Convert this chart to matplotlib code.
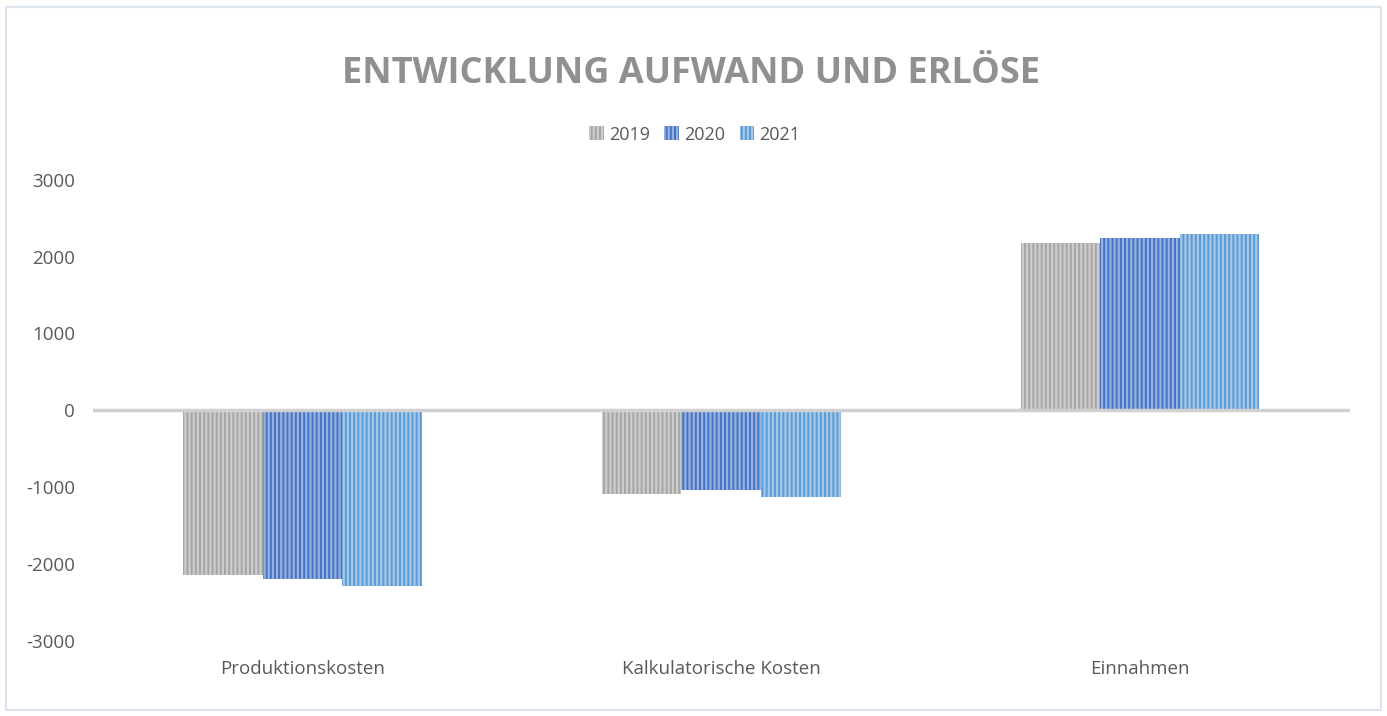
import matplotlib.pyplot as plt
from matplotlib.patches import Rectangle
import numpy as np

categories = ["Produktionskosten", "Kalkulatorische Kosten", "Einnahmen"]
years = ["2019", "2020", "2021"]
values_2019 = [-2150, -1090, 2180]
values_2020 = [-2200, -1040, 2240]
values_2021 = [-2290, -1130, 2290]

colors = ["#A5A5A5", "#4472C4", "#5B9BD5"]
text_gray = "#595959"

plt.rcParams["font.family"] = ["Open Sans", "DejaVu Sans"]
plt.rcParams["hatch.linewidth"] = 1.6
plt.rcParams["axes.unicode_minus"] = False

fig = plt.figure(figsize=(13.87, 7.16), dpi=100)
ax = fig.add_axes([0.067, 0.105, 0.906, 0.644])

# light frame around the whole chart
fig.patches.append(Rectangle((0.004, 0.008), 0.992, 0.982, transform=fig.transFigure,
                             fill=False, edgecolor="#DCE4F0", linewidth=1.5))

x = np.arange(len(categories))
width = 0.19
series = [values_2019, values_2020, values_2021]
for i, (vals, year, col) in enumerate(zip(series, years, colors)):
    ax.bar(x + (i - 1) * width, vals, width, color=col, edgecolor=(1, 1, 1, 0.45),
           linewidth=0, hatch="||||", label=year, zorder=2)

ax.axhline(0, color="#D0D0D0", linewidth=2.5, zorder=3)

ax.set_xlim(-0.5, 2.5)
ax.set_ylim(-3000, 3000)
ax.set_yticks([-3000, -2000, -1000, 0, 1000, 2000, 3000])
ax.set_xticks(x)
ax.set_xticklabels(categories)
ax.tick_params(axis="both", length=0, labelsize=13.5, colors=text_gray)
ax.tick_params(axis="y", pad=13)
ax.tick_params(axis="x", pad=14)
for s in ax.spines.values():
    s.set_visible(False)

fig.text(0.498, 0.884, "ENTWICKLUNG AUFWAND UND ERLÖSE", ha="center", va="baseline",
         fontsize=26, fontweight="bold", color="#909090")

ax.legend(loc="center", bbox_to_anchor=(0.501, 0.812), bbox_transform=fig.transFigure,
          ncol=3, frameon=False, fontsize=13, labelcolor=text_gray,
          handlelength=0.8, handleheight=0.8, handletextpad=0.3, columnspacing=0.8)

fig.savefig("out.png", dpi=100)
